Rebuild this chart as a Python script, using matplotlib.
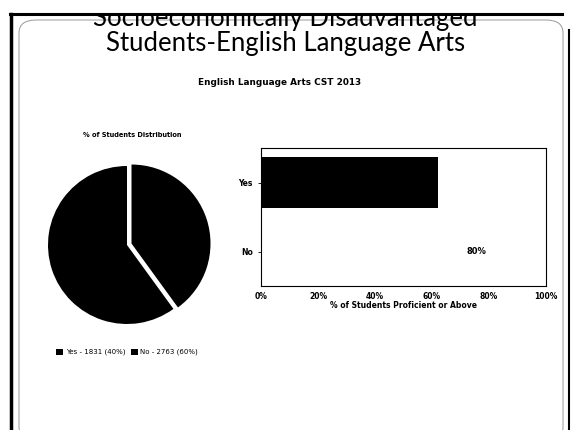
import matplotlib
matplotlib.use("Agg")
import matplotlib.pyplot as plt
from matplotlib.patches import FancyBboxPatch, Rectangle
from matplotlib.lines import Line2D
from matplotlib.ticker import FuncFormatter

# student counts by group
groups = ["Yes", "No"]
counts = [1831, 2763]
shares = [40, 60]

# percent proficient or above
prof_groups = ["Yes", "No"]
prof_pct = [62, 80]
xticks = [0, 20, 40, 60, 80, 100]

W, H = 571, 430
fig = plt.figure(figsize=(W / 100, H / 100), dpi=100)
fig.patch.set_facecolor("white")

def fx(px):
    return px / W

def fy(py):
    return 1 - py / H

# slide frame
frame = FancyBboxPatch((fx(19), fy(440)), fx(544), (440 - 20) / H,
                       boxstyle="round,pad=0,rounding_size=0.03",
                       transform=fig.transFigure, fill=False,
                       edgecolor="#999999", linewidth=0.7)
fig.add_artist(frame)

# titles
fig.text(0.5, fy(26), "Socioeconomically Disadvantaged", ha="center", va="baseline",
         fontsize=18.5, family="Lato", color="black", zorder=2)
fig.text(0.5, fy(51), "Students-English Language Arts", ha="center", va="baseline",
         fontsize=18.5, family="Lato", color="black")
fig.add_artist(Rectangle((0, fy(14)), 1, 14 / H, transform=fig.transFigure,
                         facecolor="white", edgecolor="none", zorder=5))
fig.add_artist(Line2D([fx(10), fx(562)], [fy(14), fy(14)], transform=fig.transFigure,
                      color="black", linewidth=2.2, zorder=6))
fig.add_artist(Line2D([fx(11), fx(11)], [fy(14), 0], transform=fig.transFigure,
                      color="black", linewidth=2.5, zorder=6))
fig.add_artist(Line2D([fx(568.5), fx(568.5)], [fy(30), 0], transform=fig.transFigure,
                      color="black", linewidth=1.5, zorder=6))

fig.text(fx(280), fy(85), "English Language Arts CST 2013", ha="center", va="baseline",
         fontsize=6.4, fontweight="bold", family="DejaVu Sans")

# pie of student distribution
r = 79
cx, cy = 127, 245
ax_pie = fig.add_axes([fx(cx - 1.1 * r), (H - cy - 1.1 * r) / H, 2.2 * r / W, 2.2 * r / H])
wedges, _ = ax_pie.pie(shares, explode=[0.06, 0], startangle=90, counterclock=False,
                       colors=["black", "black"], wedgeprops=dict(linewidth=0))
ax_pie.set_xlim(-1.1, 1.1)
ax_pie.set_ylim(-1.1, 1.1)
ax_pie.set_aspect("equal")
ax_pie.axis("off")

fig.text(fx(132), fy(137), "% of Students Distribution", ha="center", va="baseline",
         fontsize=4.8, fontweight="bold")
labels = ["%s - %d (%d%%)" % (g, c, s) for g, c, s in zip(groups, counts, shares)]
fig.legend(wedges, labels, loc="center", bbox_to_anchor=(fx(127), fy(352)),
           ncol=2, frameon=False, fontsize=5, handlelength=1.0, handleheight=1.0,
           handletextpad=0.4, columnspacing=0.8)

# bar chart of proficiency
ax = fig.add_axes([fx(261), fy(286), fx(546) - fx(261), (286 - 148) / H])
bars = ax.barh(prof_groups, prof_pct, height=0.74, color=["black", "white"])
ax.set_xlim(0, 100)
ax.set_ylim(1.5, -0.5)
ax.set_xticks(xticks)
ax.xaxis.set_major_formatter(FuncFormatter(lambda v, p: "%d%%" % v))
ax.tick_params(labelsize=5.5, length=2, width=0.6, pad=4)
for lab in ax.get_xticklabels() + ax.get_yticklabels():
    lab.set_fontweight("bold")
ax.tick_params(axis="x", length=0)
for sp in ax.spines.values():
    sp.set_linewidth(0.8)
ax.set_xlabel("% of Students Proficient or Above", fontsize=5.5, fontweight="bold", labelpad=0.5)
ax.text(prof_pct[1] - 1, 1, "%d%%" % prof_pct[1], ha="right", va="center",
        fontsize=6, fontweight="bold", color="black")

fig.savefig("out.png", dpi=100)
